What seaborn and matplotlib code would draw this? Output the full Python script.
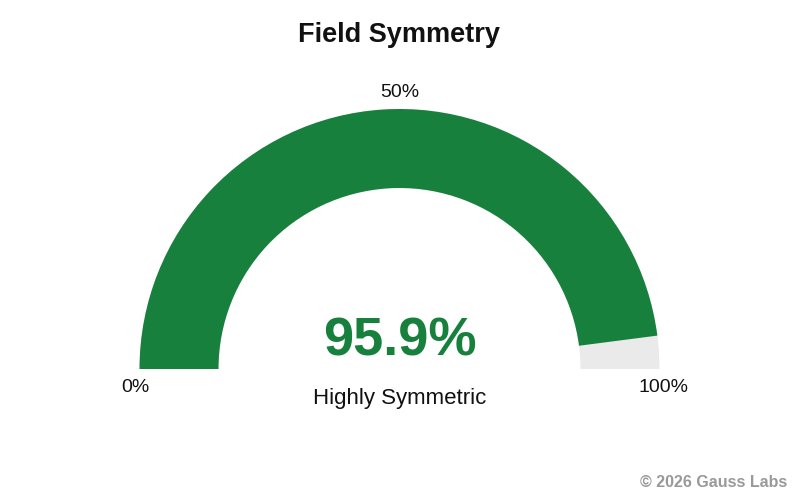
import matplotlib
matplotlib.use("Agg")
import matplotlib.pyplot as plt
from matplotlib.patches import Wedge
import seaborn as sns

# -----------------------------
# DATA
# -----------------------------
TITLE = "Field Symmetry"
VALUE = 95.9
VMIN, VMAX = 0, 100
TICK_VALUES = [0, 50, 100]
TICK_LABELS = ["0%", "50%", "100%"]
STATUS = "Highly Symmetric"
CREDIT = "\u00a9 2026 Gauss Labs"

GREEN = "#17803d"
TRACK = "#eaeaea"

sns.set_theme(style="white")
plt.rcParams["font.family"] = ["Liberation Sans", "DejaVu Sans"]

fig = plt.figure(figsize=(8, 5), dpi=100)
ax = fig.add_axes([0, 0, 1, 1])
ax.set_xlim(0, 800)
ax.set_ylim(0, 500)
ax.axis("off")

# gauge geometry (pixel space, y up)
cx, cy = 399.5, 131
r_out, width = 260, 79


def to_angle(v):
    return 180 - 180 * (v - VMIN) / (VMAX - VMIN)


# background track, then value arc
ax.add_patch(Wedge((cx, cy), r_out, 0, 180, width=width, color=TRACK, lw=0))
ax.add_patch(Wedge((cx, cy), r_out, to_angle(VALUE), 180, width=width,
                   color=GREEN, lw=0))

# tick labels
tick_pos = {0: (135.5, 108), 50: (cx, 403), 100: (663.5, 108)}
for v, lab in zip(TICK_VALUES, TICK_LABELS):
    x, y = tick_pos[v]
    ax.text(x, y, lab, ha="center", va="baseline", fontsize=14, color="#111")

ax.text(cx, 458, TITLE, ha="center", va="baseline", fontsize=19.5,
        fontweight="bold", color="#111")
ax.text(cx, 144, f"{VALUE:.1f}%", ha="center", va="baseline", fontsize=39,
        fontweight="bold", color=GREEN)
ax.text(cx, 96, STATUS, ha="center", va="baseline", fontsize=16, color="#111")
ax.text(787, 13, CREDIT, ha="right", va="baseline", fontsize=11.5,
        fontweight="bold", color="#999999")

fig.savefig("out.png", dpi=100, facecolor="white")
